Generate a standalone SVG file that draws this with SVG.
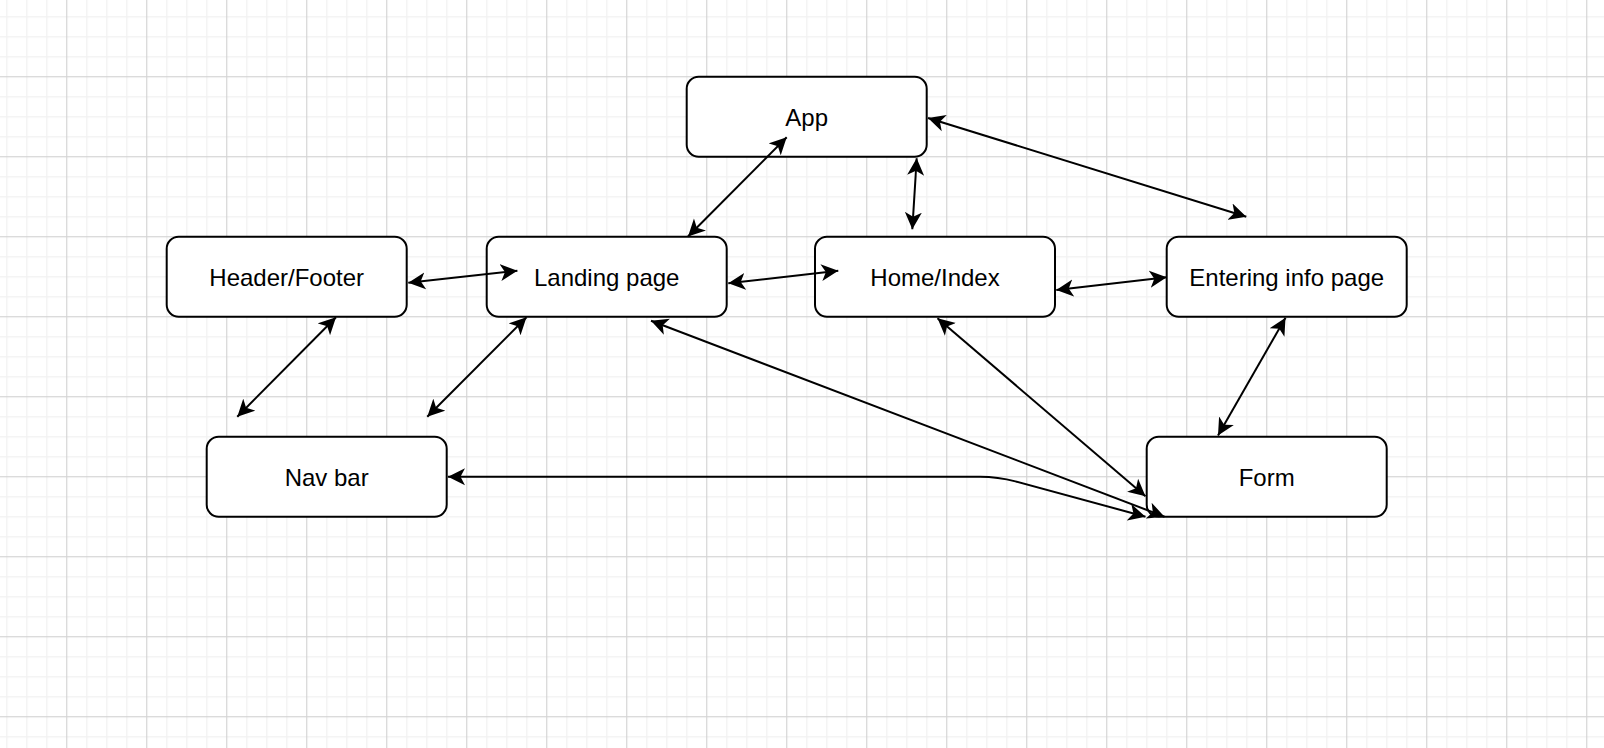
<svg xmlns="http://www.w3.org/2000/svg" width="1604" height="748" viewBox="0 0 1604 748">
  <defs>
    <pattern id="grid" patternUnits="userSpaceOnUse" x="-13.83" y="-3.83" width="80" height="80">
      <rect x="20" y="0" width="1.4" height="80" fill="#f2f2f2"/>
      <rect x="40" y="0" width="1.4" height="80" fill="#f2f2f2"/>
      <rect x="60" y="0" width="1.4" height="80" fill="#f2f2f2"/>
      <rect x="0" y="20" width="80" height="1.4" fill="#f2f2f2"/>
      <rect x="0" y="40" width="80" height="1.4" fill="#f2f2f2"/>
      <rect x="0" y="60" width="80" height="1.4" fill="#f2f2f2"/>
      <rect x="0" y="0" width="1.2" height="80" fill="#d4d4d4"/>
      <rect x="0" y="0" width="80" height="1.2" fill="#d4d4d4"/>
    </pattern>
    <marker id="arr" viewBox="0 -9 18 18" refX="17" refY="0" markerWidth="18" markerHeight="18" markerUnits="userSpaceOnUse" orient="auto-start-reverse">
      <path d="M17,0 L0,-8.5 L4.5,0 L0,8.5 Z" fill="#000"/>
    </marker>
  </defs>
  <style>
    .box { fill: #ffffff; stroke: #000000; stroke-width: 2; }
    .lbl { font-family: "Liberation Sans", Arial, Helvetica, sans-serif; font-size: 24px; fill: #000000; text-anchor: middle; }
    .edge { fill: none; stroke: #000000; stroke-width: 2; marker-start: url(#arr); marker-end: url(#arr); }
  </style>
  <rect x="0" y="0" width="1604" height="748" fill="#ffffff"/>
  <rect x="0" y="0" width="1604" height="748" fill="url(#grid)"/>

  <g id="node-app">
    <rect class="box" x="686.7" y="76.7" width="240" height="80" rx="12" ry="12"/>
    <text class="lbl" x="806.7" y="126.2">App</text>
  </g>
  <g id="node-header-footer">
    <rect class="box" x="166.7" y="236.7" width="240" height="80" rx="12" ry="12"/>
    <text class="lbl" x="286.7" y="286.2">Header/Footer</text>
  </g>
  <g id="node-landing">
    <rect class="box" x="486.7" y="236.7" width="240" height="80" rx="12" ry="12"/>
    <text class="lbl" x="606.7" y="286.2">Landing page</text>
  </g>
  <g id="node-home">
    <rect class="box" x="815" y="236.7" width="240" height="80" rx="12" ry="12"/>
    <text class="lbl" x="935" y="286.2">Home/Index</text>
  </g>
  <g id="node-entering">
    <rect class="box" x="1166.7" y="236.7" width="240" height="80" rx="12" ry="12"/>
    <text class="lbl" x="1286.7" y="286.2">Entering info page</text>
  </g>
  <g id="node-navbar">
    <rect class="box" x="206.7" y="436.7" width="240" height="80" rx="12" ry="12"/>
    <text class="lbl" x="326.7" y="486.2">Nav bar</text>
  </g>
  <g id="node-form">
    <rect class="box" x="1146.7" y="436.7" width="240" height="80" rx="12" ry="12"/>
    <text class="lbl" x="1266.7" y="486.2">Form</text>
  </g>

  <g id="connectors">
    <path class="edge" d="M786.7,137.3 L688,236.5"/>
    <path class="edge" d="M916.7,158.3 L912.3,229.3"/>
    <path class="edge" d="M928,118 L1246.3,216.7"/>
    <path class="edge" d="M408.3,282.7 L517.4,270.7"/>
    <path class="edge" d="M728.3,283.3 L838.3,270.7"/>
    <path class="edge" d="M1056.3,290 L1166.7,277.3"/>
    <path class="edge" d="M336,317.3 L237.3,416.7"/>
    <path class="edge" d="M526.5,317.3 L427.3,416.7"/>
    <path class="edge" d="M651,320.7 L1164.5,516.7"/>
    <path class="edge" d="M937.5,318.3 L1145.5,496.3"/>
    <path class="edge" d="M1285.5,317.8 L1218,435.5"/>
    <path class="edge" d="M448,476.7 L980,476.7 Q998,476.7 1015.4,481.4 L1145.5,516.7"/>
  </g>
</svg>
